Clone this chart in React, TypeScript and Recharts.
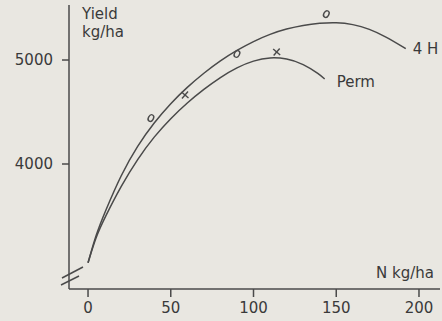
import { ComposedChart, Line, Scatter, XAxis, YAxis } from "recharts";

// fitted response curves
const n4H = [0, 5, 10, 20, 30, 40, 50, 60, 70, 80, 90, 100, 110, 120, 130, 140, 150, 160, 170, 180, 192];
const yield4H = [3050, 3330, 3530, 3900, 4180, 4400, 4585, 4740, 4875, 4995, 5095, 5180, 5250, 5300, 5335, 5355, 5362, 5345, 5300, 5225, 5110];

const nPerm = [0, 5, 10, 20, 30, 40, 50, 60, 70, 80, 90, 100, 110, 120, 130, 140, 143];
const yieldPerm = [3050, 3310, 3480, 3790, 4050, 4265, 4440, 4590, 4720, 4835, 4930, 4995, 5027, 5015, 4965, 4862, 4817];

// observed points
const obs4HN = [38, 90, 144];
const obs4HYield = [4442, 5058, 5442];
const obsPermN = [58.6, 114];
const obsPermYield = [4663, 5077];

const xTicks = [0, 50, 100, 150, 200];
const yTicks = [4000, 5000];

const curve4H = n4H.map((n, i) => ({ n, y: yield4H[i] }));
const curvePerm = nPerm.map((n, i) => ({ n, y: yieldPerm[i] }));
const obs4H = obs4HN.map((n, i) => ({ n, y: obs4HYield[i] }));
const obsPerm = obsPermN.map((n, i) => ({ n, y: obsPermYield[i] }));

const INK = "#4a4a4a";
const TEXT = "#3a3a3a";
const FONT = "'DejaVu Sans', sans-serif";

const tickStyle = { fill: TEXT, fontSize: 15, fontFamily: FONT };

function Circle(props: any) {
  const { cx, cy } = props;
  return (
    <ellipse cx={cx} cy={cy} rx={2.5} ry={3.5} transform={`rotate(30 ${cx} ${cy})`}
      fill="none" stroke={INK} strokeWidth={1.4} />
  );
}

function Cross(props: any) {
  const { cx, cy } = props;
  return (
    <g stroke={INK} strokeWidth={1.4}>
      <line x1={cx - 3.5} y1={cy - 3} x2={cx + 3.5} y2={cy + 3} />
      <line x1={cx - 3} y1={cy + 3.5} x2={cx + 3} y2={cy - 3.5} />
    </g>
  );
}

function endLabel(text: string, last: number, dx: number, dy: number) {
  return (props: any) => {
    if (props.index !== last) return <g />;
    return (
      <text x={props.x + dx} y={props.y + dy} fill={TEXT} fontSize={15} fontFamily={FONT}>
        {text}
      </text>
    );
  };
}

export default function App() {
  return (
    <div style={{ position: "relative", width: 442, height: 321, background: "#e9e7e1" }}>
      <style>{`body{margin:0}`}</style>
      <ComposedChart width={442} height={321} margin={{ top: 5, right: 2, left: 0, bottom: 0 }}>
        <XAxis
          type="number"
          dataKey="n"
          domain={[-11.5, 212.7]}
          allowDataOverflow
          ticks={xTicks}
          tickSize={8}
          tickMargin={5}
          height={32}
          axisLine={{ stroke: INK, strokeWidth: 1.5 }}
          tickLine={{ stroke: INK, strokeWidth: 1.5 }}
          tick={tickStyle}
        />
        <YAxis
          type="number"
          dataKey="y"
          domain={[2798, 5529]}
          allowDataOverflow
          ticks={yTicks}
          tickSize={7}
          tickMargin={9}
          width={69}
          axisLine={{ stroke: INK, strokeWidth: 1.5 }}
          tickLine={{ stroke: INK, strokeWidth: 1.5 }}
          tick={tickStyle}
        />
        <Line data={curve4H} dataKey="y" type="basis" stroke={INK} strokeWidth={1.5}
          dot={false} isAnimationActive={false} label={endLabel("4 H", n4H.length - 1, 7, 5)} />
        <Line data={curvePerm} dataKey="y" type="basis" stroke={INK} strokeWidth={1.5}
          dot={false} isAnimationActive={false} label={endLabel("Perm", nPerm.length - 1, 12, 8)} />
        <Scatter data={obs4H} dataKey="y" shape={Circle} isAnimationActive={false} />
        <Scatter data={obsPerm} dataKey="y" shape={Cross} isAnimationActive={false} />
      </ComposedChart>
      <svg width={442} height={321} style={{ position: "absolute", left: 0, top: 0, pointerEvents: "none" }}>
        <g fill={TEXT} fontSize={15} fontFamily={FONT}>
          <text x={82} y={19}>Yield</text>
          <text x={82} y={37}>kg/ha</text>
          <text x={376} y={278}>N  kg/ha</text>
        </g>
        <g stroke={INK} strokeWidth={1.5}>
          <line x1={62} y1={278} x2={83} y2={267} />
          <line x1={61} y1={285} x2={79} y2={276} />
        </g>
      </svg>
    </div>
  );
}
